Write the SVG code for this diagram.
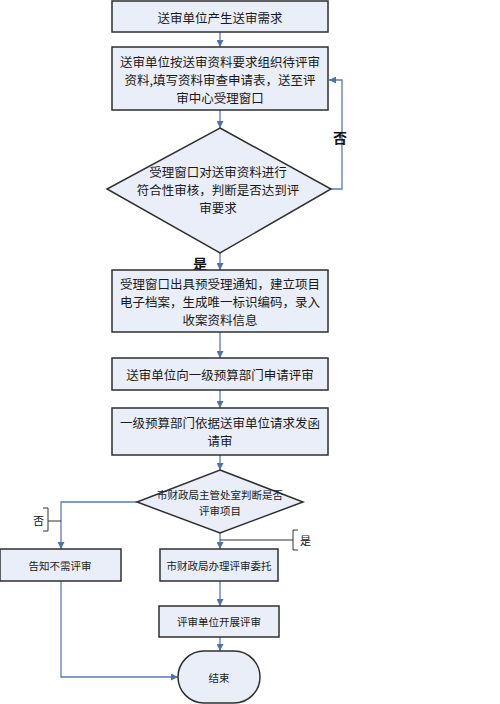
<svg xmlns="http://www.w3.org/2000/svg" width="500" height="704" viewBox="0 0 500 704">
<style>
.n{fill:#e9eef8;stroke:#2f2f2f;stroke-width:1.5}
.t{font-family:"Noto Sans CJK SC","Noto Sans",sans-serif;fill:#1a1a1a;text-anchor:middle;dominant-baseline:central}
.b{font-size:12.5px}
.s{font-size:10.5px}
.c{fill:none;stroke:#5a7bb0;stroke-width:1.3}
.k{fill:none;stroke:#333;stroke-width:1}
.l{font-family:"Noto Sans CJK SC","Noto Sans",sans-serif;fill:#111;dominant-baseline:central}
</style>
<defs>
<marker id="a" viewBox="0 0 10 10" refX="10" refY="5" markerWidth="7" markerHeight="7" orient="auto" markerUnits="userSpaceOnUse">
<path d="M0,0L10,5L0,10z" fill="#4f73a8"/>
</marker>
</defs>
<rect width="500" height="704" fill="#fff"/>
<g id="connectors">
<path class="c" d="M220,32V47" marker-end="url(#a)"/>
<path class="c" d="M220,110V128" marker-end="url(#a)"/>
<path class="c" d="M331,189H342V80H329" marker-end="url(#a)"/>
<path class="c" d="M220,253V270" marker-end="url(#a)"/>
<path class="c" d="M220,332V358" marker-end="url(#a)"/>
<path class="c" d="M220,390V408" marker-end="url(#a)"/>
<path class="c" d="M220,455V470" marker-end="url(#a)"/>
<path class="c" d="M137,502H61V549" marker-end="url(#a)"/>
<path class="c" d="M220,533V549" marker-end="url(#a)"/>
<path class="c" d="M220,581V606" marker-end="url(#a)"/>
<path class="c" d="M220,637V651" marker-end="url(#a)"/>
<path class="c" d="M61,581V677H178" marker-end="url(#a)"/>
<path class="k" d="M220,540H293M298,530H293V550H298"/>
<path class="k" d="M61,521H48M43,508H48V531H43"/>
<text class="l" x="333" y="137" font-size="14" font-weight="bold">否</text>
<text class="l" x="193" y="263" font-size="14" font-weight="bold">是</text>
<text class="l" x="300" y="540" font-size="11">是</text>
<text class="l" x="33" y="520" font-size="11">否</text>
</g>
<g id="n1"><rect class="n" x="112" y="1" width="216" height="31"/><text class="t b" x="220" y="17">送审单位产生送审需求</text></g>
<g id="n2"><rect class="n" x="112" y="47" width="216" height="63"/>
<text class="t b" x="220" y="61">送审单位按送审资料要求组织待评审</text>
<text class="t b" x="220" y="79">资料,填写资料审查申请表，送至评</text>
<text class="t b" x="220" y="97">审中心受理窗口</text></g>
<g id="n3"><polygon class="n" points="220,128 331,189 220,253 107,189"/>
<text class="t b" x="218" y="171">受理窗口对送审资料进行</text>
<text class="t b" x="218" y="189">符合性审核，判断是否达到评</text>
<text class="t b" x="218" y="207">审要求</text></g>
<g id="n4"><rect class="n" x="112" y="270" width="216" height="62"/>
<text class="t b" x="220" y="283">受理窗口出具预受理通知，建立项目</text>
<text class="t b" x="220" y="301">电子档案，生成唯一标识编码，录入</text>
<text class="t b" x="220" y="319">收案资料信息</text></g>
<g id="n5"><rect class="n" x="112" y="358" width="216" height="32"/><text class="t b" x="220" y="374">送审单位向一级预算部门申请评审</text></g>
<g id="n6"><rect class="n" x="112" y="408" width="216" height="47"/>
<text class="t b" x="220" y="422">一级预算部门依据送审单位请求发函</text>
<text class="t b" x="220" y="440">请审</text></g>
<g id="n7"><polygon class="n" points="220,470 303,502 220,533 137,502"/>
<text class="t s" x="220" y="494">市财政局主管处室判断是否</text>
<text class="t s" x="220" y="510">评审项目</text></g>
<g id="n8"><rect class="n" x="0" y="549" width="121" height="32"/><text class="t s" x="60" y="565">告知不需评审</text></g>
<g id="n9"><rect class="n" x="160" y="549" width="118" height="32"/><text class="t s" x="219" y="565">市财政局办理评审委托</text></g>
<g id="n10"><rect class="n" x="159" y="606" width="120" height="31"/><text class="t s" x="219" y="621">评审单位开展评审</text></g>
<g id="n11"><rect class="n" x="178" y="651" width="82" height="52" rx="26" ry="26"/><text class="t s" x="219" y="677">结束</text></g>
</svg>
